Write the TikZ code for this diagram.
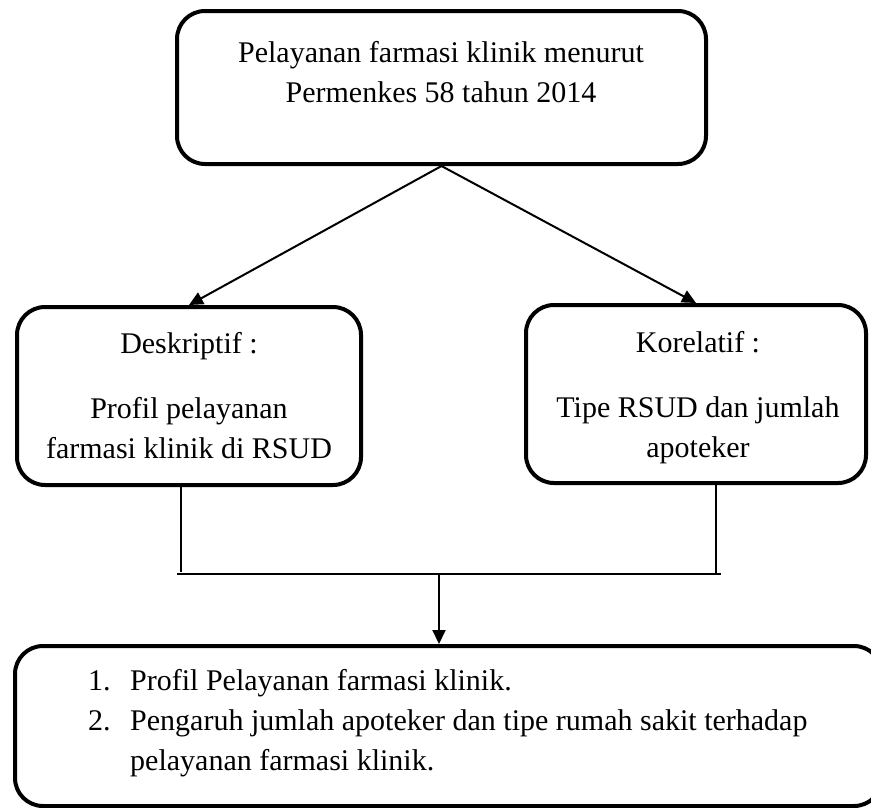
\documentclass[tikz,border=0pt]{standalone}
\usepackage{fontspec}
\setmainfont{Liberation Serif}
\usetikzlibrary{arrows.meta}

\begin{document}
\begin{tikzpicture}
    [x=1pt, y=-1pt,
    >={Triangle[length=14pt,width=13pt]},
    font=\fontsize{30}{40}\selectfont,
    roundbox/.style={
      rectangle,
      rounded corners=28pt,
      draw=black,
      line width=4pt,
      inner sep=0pt},
    boxtext/.style={
      anchor=base,
      inner sep=0pt},
    link/.style={line width=2pt},
    thinlink/.style={line width=1.3pt}
    ]
    \useasboundingbox (0,0) rectangle (871,807);
    \clip (0,0) rectangle (871,807);
    % boxes
    \node (top) [roundbox, minimum width=529pt, minimum height=153pt] at (441.5,87.5) {};
    \node (desc) [roundbox, minimum width=344pt, minimum height=178pt] at (189,396) {};
    \node (korel) [roundbox, minimum width=340pt, minimum height=178pt] at (696,394) {};
    \node (result) [roundbox, minimum width=867pt, minimum height=160pt] at (448.5,726) {};
    % texts
    \node (toptext) [boxtext] at (441,62) {\begin{tabular}[t]{@{}c@{}}
      Pelayanan farmasi klinik menurut\\
      Permenkes 58 tahun 2014\end{tabular}};
    \node (desctext) [boxtext] at (189,353) {\begin{tabular}[t]{@{}c@{}}
      Deskriptif :\\[25pt]
      Profil pelayanan\\
      farmasi klinik di RSUD\end{tabular}};
    \node (koreltext) [boxtext] at (698,352) {\begin{tabular}[t]{@{}c@{}}
      Korelatif :\\[25pt]
      Tipe RSUD dan jumlah\\
      apoteker\end{tabular}};
    \node (resulttext) [anchor=base west, inner sep=0pt] at (88,690) {\begin{tabular}[t]{@{}l@{\hspace{19.5pt}}l@{}}
      1. & Profil Pelayanan farmasi klinik.\\
      2. & Pengaruh jumlah apoteker dan tipe rumah sakit terhadap\\
         & pelayanan farmasi klinik.\end{tabular}};
    % connectors
    \coordinate (joinL) at (181,574);
    \coordinate (joinR) at (716,574);
    \coordinate (joinM) at (439,574);
    \draw[->, link] (top.south) -- (desc.north);
    \draw[->, link] (top.south) -- (korel.north);
    \draw[thinlink] (desc.south -| joinL) -- ([yshift=2pt]joinL);
    \draw[thinlink] (korel.south -| joinR) -- (joinR);
    \draw[thinlink] ([xshift=-4pt]joinL) -- ([xshift=5pt]joinR);
    \draw[->, link] (joinM) -- (result.north -| joinM);
\end{tikzpicture}
\end{document}
